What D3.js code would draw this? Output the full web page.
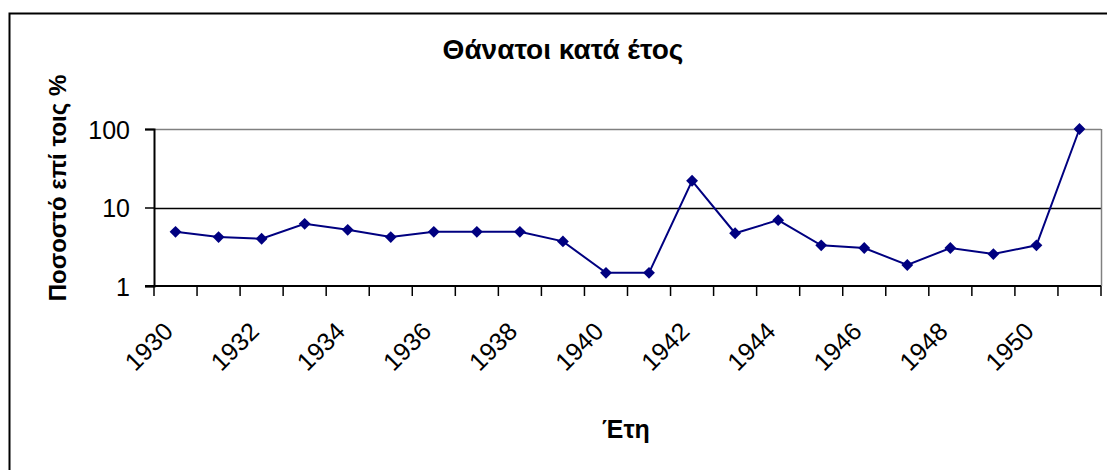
<!DOCTYPE html>
<html>
<head>
<meta charset="utf-8">
<script src="https://cdn.jsdelivr.net/npm/d3@7"></script>
<style>
  body { margin: 0; background: #fff; }
  svg { display: block; font-family: "Liberation Sans", Arial, sans-serif; }
  .axis-text { font-size: 25px; fill: #000; }
  .title { font-weight: bold; fill: #000; }
</style>
</head>
<body>
<svg id="chart"></svg>
<script>
// years on the category axis
const years = [1930, 1931, 1932, 1933, 1934, 1935, 1936, 1937, 1938, 1939, 1940,
               1941, 1942, 1943, 1944, 1945, 1946, 1947, 1948, 1949, 1950, 1951];
// deaths per year, percent
const deaths = [4.9, 4.2, 4.0, 6.2, 5.2, 4.2, 4.9, 4.9, 4.9, 3.7, 1.47,
                1.47, 21.9, 4.7, 6.9, 3.3, 3.05, 1.85, 3.05, 2.55, 3.3, 100];
const yTicks = [1, 10, 100];
const labelYears = [1930, 1932, 1934, 1936, 1938, 1940, 1942, 1944, 1946, 1948, 1950];

const width = 1107, height = 470;
const margin = { top: 129, right: 6, bottom: 184, left: 154 };

const svg = d3.select("#chart")
    .attr("width", width)
    .attr("height", height);

// outer frame of the chart (runs off right and bottom edges)
svg.append("rect")
    .attr("x", 9.5).attr("y", 13.5)
    .attr("width", 1120).attr("height", 480)
    .attr("fill", "none")
    .attr("stroke", "#000")
    .attr("stroke-width", 2);

const x = d3.scaleBand()
    .domain(years)
    .range([margin.left, width - margin.right])
    .padding(0);

const y = d3.scaleLog()
    .domain([1, 100])
    .range([height - margin.bottom, margin.top]);

// gridlines
svg.append("g")
    .selectAll("line")
    .data(yTicks.filter(d => d > 1))
    .join("line")
    .attr("x1", margin.left).attr("x2", width - margin.right)
    .attr("y1", d => Math.round(y(d)) + 0.5).attr("y2", d => Math.round(y(d)) + 0.5)
    .attr("stroke", d => d === 100 ? "#808080" : "#000")
    .attr("stroke-width", 1.5);

// right border of plot area
svg.append("line")
    .attr("x1", width - margin.right + 0.5).attr("x2", width - margin.right + 0.5)
    .attr("y1", y(100)).attr("y2", y(1))
    .attr("stroke", "#808080")
    .attr("stroke-width", 1.5);

// y axis
const yAxis = svg.append("g")
    .attr("transform", `translate(${margin.left},0)`)
    .call(d3.axisLeft(y).tickValues(yTicks).tickFormat(d3.format("d")).tickSize(9).tickPadding(15));
yAxis.select(".domain").attr("stroke-width", 2);
yAxis.selectAll(".tick line").attr("stroke-width", 1.5);
yAxis.selectAll("text").attr("class", "axis-text").attr("font-family", null).attr("font-size", null)
    .attr("dy", "0.36em");

// x axis: ticks on the category boundaries
const xg = svg.append("g");
xg.append("line")
    .attr("x1", margin.left - 9).attr("x2", width - margin.right)
    .attr("y1", y(1)).attr("y2", y(1))
    .attr("stroke", "#000").attr("stroke-width", 2);
const bounds = years.map(d => x(d)).concat([x(years[years.length - 1]) + x.bandwidth()]);
xg.selectAll("line.tick")
    .data(bounds)
    .join("line")
    .attr("class", "tick")
    .attr("x1", d => d).attr("x2", d => d)
    .attr("y1", y(1)).attr("y2", y(1) + 10)
    .attr("stroke", "#000").attr("stroke-width", 1.5);
xg.selectAll("text")
    .data(labelYears)
    .join("text")
    .attr("class", "axis-text")
    .attr("text-anchor", "end")
    .attr("transform", d => `translate(${x(d) + x.bandwidth() / 2 - 1},${y(1) + 47}) rotate(-45)`)
    .text(d => d);

// the series
const line = d3.line()
    .x((d, i) => x(years[i]) + x.bandwidth() / 2)
    .y(d => y(d));

svg.append("path")
    .datum(deaths)
    .attr("d", line)
    .attr("fill", "none")
    .attr("stroke", "#000080")
    .attr("stroke-width", 2);

svg.append("g")
    .selectAll("path")
    .data(deaths)
    .join("path")
    .attr("d", d3.symbol().type(d3.symbolSquare).size(70))
    .attr("transform", (d, i) => `translate(${x(years[i]) + x.bandwidth() / 2},${y(d)}) rotate(45)`)
    .attr("fill", "#000080");

// titles
svg.append("text")
    .attr("class", "title")
    .attr("x", 563).attr("y", 59)
    .attr("text-anchor", "middle")
    .attr("font-size", 28)
    .text("Θάνατοι κατά έτος");

svg.append("text")
    .attr("class", "title")
    .attr("transform", "translate(66,188) rotate(-90)")
    .attr("text-anchor", "middle")
    .attr("font-size", 24)
    .text("Ποσοστό επί τοις %");

svg.append("text")
    .attr("class", "title")
    .attr("x", 626).attr("y", 438)
    .attr("text-anchor", "middle")
    .attr("font-size", 25)
    .text("Έτη");
</script>
</body>
</html>
